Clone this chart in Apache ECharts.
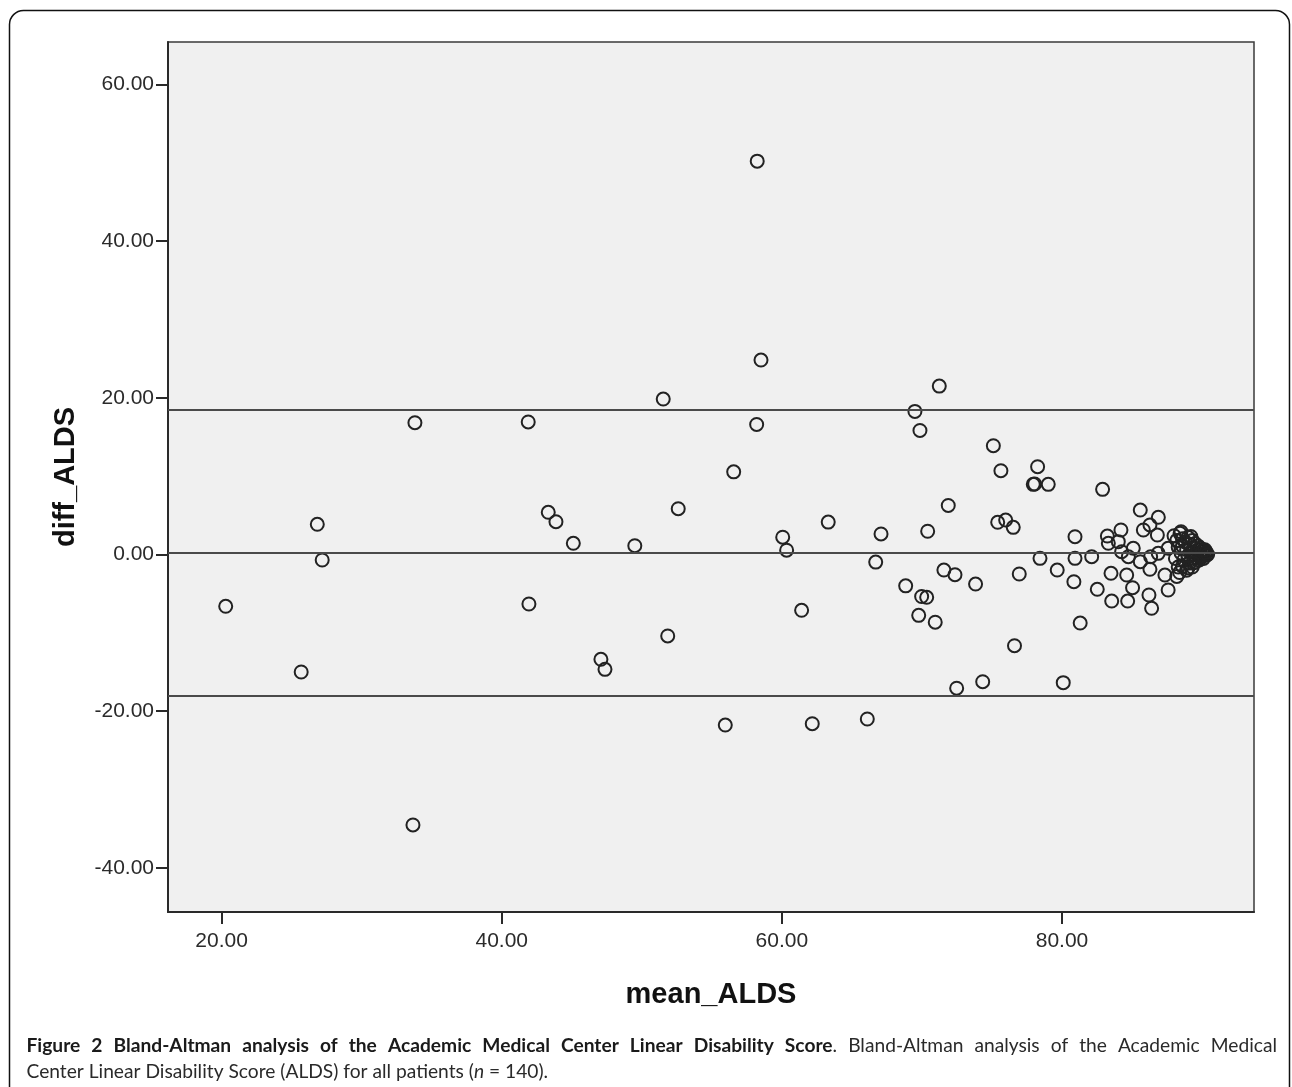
<!DOCTYPE html>
<html>
<head>
<meta charset="utf-8">
<script src="https://cdn.jsdelivr.net/npm/echarts@6/dist/echarts.min.js"></script>
<style>
html,body{margin:0;padding:0;background:#fff;}
#chart{width:1292px;height:1087px;}
</style>
</head>
<body>
<div id="chart"></div>
<script>
// ---- data ----
const meanALDS = [
  20.29, 25.68, 26.83, 27.18, 33.66, 33.80, 41.89, 41.94, 43.32, 43.87,
  45.11, 47.08, 47.37, 49.50, 51.53, 51.85, 52.60,
  55.96, 56.56, 58.24, 58.51, 58.20, 60.06, 60.34, 61.41, 62.17, 63.31,
  66.10, 66.70, 67.08, 68.84, 69.50, 69.77, 69.86, 69.98, 70.34, 70.41,
  70.95, 71.24, 71.57, 71.88, 72.36, 72.48,
  73.83, 74.34, 75.10, 75.41, 75.64, 75.98, 76.52, 76.61, 76.95, 77.95,
  78.05, 78.26, 78.43, 79.02, 79.66, 80.09, 80.85, 80.93, 80.93, 81.30,
  82.90, 85.59, 86.88, 83.24, 84.21, 85.81, 86.28, 86.81, 88.43, 83.31,
  84.02, 85.09, 84.26, 84.74, 82.12, 85.59, 86.33, 86.87, 87.58, 86.28,
  87.35, 83.50, 84.62, 85.04, 82.52, 87.58, 83.55, 84.69, 86.21, 86.40,
  88.00, 88.20, 88.30, 88.10, 88.30, 88.20, 88.50, 88.60, 88.60, 88.50,
  88.70, 88.60, 88.90, 88.80, 88.90, 89.00, 89.00, 89.10, 89.10, 89.20,
  89.30, 89.30, 89.40, 89.40, 89.50, 89.50, 89.60, 89.60, 89.70, 89.70,
  89.80, 89.80, 89.90, 89.90, 90.00, 90.00, 90.10, 90.10, 90.20, 90.20,
  90.30, 90.30, 90.40, 89.35, 89.00, 88.40, 89.20
];
const diffALDS = [
  -6.61, -15.00, 3.86, -0.70, -34.53, 16.83, 16.92, -6.32, 5.39, 4.19,
  1.43, -13.38, -14.66, 1.12, 19.85, -10.40, 5.85,
  -21.77, 10.55, 50.22, 24.83, 16.60, 2.21, 0.55, -7.12, -21.60, 4.14,
  -21.00, -0.97, 2.62, -4.00, 18.27, -7.77, 15.84, -5.36, -5.46, 2.97,
  -8.64, 21.50, -1.98, 6.26, -2.58, -17.07,
  -3.77, -16.24, 13.89, 4.11, 10.70, 4.40, 3.47, -11.64, -2.49, 8.96,
  9.00, 11.21, -0.49, 8.96, -1.98, -16.36, -3.47, 2.27, -0.49, -8.75,
  8.32, 5.68, 4.75, 2.36, 3.13, 3.13, 3.77, 2.49, 2.70, 1.43,
  1.64, 0.79, 0.36, -0.28, -0.28, -0.92, -0.28, 0.15, 0.79, -1.89,
  -2.62, -2.40, -2.62, -4.24, -4.44, -4.53, -5.94, -5.94, -5.17, -6.87,
  2.40, 1.80, 0.90, -0.50, -1.60, -2.80, 2.90, 2.00, 1.10, 0.20,
  -0.70, -1.50, -2.00, 1.60, 0.60, -0.20, 2.20, 1.30, -1.10, 0.30,
  -1.60, 1.80, 0.90, -0.50, 1.40, -1.00, 0.20, -0.40, 1.10, 0.60,
  -0.70, 0.00, 0.80, -0.30, 0.40, -0.20, 0.50, -0.50, 0.10, 0.60,
  -0.10, 0.30, 0.00, -1.09, -1.70, -2.30, 2.30
];
const upperLimit = 18.51;
const meanDiff = 0.24;
const lowerLimit = -18.03;
const xTicks = [20, 40, 60, 80];
const yTicks = [-40, -20, 0, 20, 40, 60];
const xTitle = 'mean_ALDS';
const yTitle = 'diff_ALDS';
const captionLine1 = [
  ['b', 'Figure'], ['b', '2'], ['b', 'Bland-Altman'], ['b', 'analysis'], ['b', 'of'], ['b', 'the'],
  ['b', 'Academic'], ['b', 'Medical'], ['b', 'Center'], ['b', 'Linear'], ['b', 'Disability'],
  ['b', 'Score', 'r', '.'], ['r', 'Bland-Altman'], ['r', 'analysis'], ['r', 'of'], ['r', 'the'],
  ['r', 'Academic'], ['r', 'Medical']
];
const captionLine2 = ['Center Linear Disability Score (ALDS) for all patients (', 'n', ' = 140).'];

// ---- chart ----
const points = meanALDS.map((m, i) => [m, diffALDS[i]]);
const chart = echarts.init(document.getElementById('chart'));

const capFont = 'Lato, "Open Sans", sans-serif';
const capSize = 19.2;
const capColor = '#2a2a2a';
const ctx = document.createElement('canvas').getContext('2d');
function segWidth(style, text) {
  ctx.font = (style === 'b' ? 'bold ' : '') + capSize + 'px ' + capFont;
  return ctx.measureText(text).width;
}
const capLeft = 26.5, capRight = 1277, capY1 = 1045.5, capY2 = 1071.5;
const wordWidths = captionLine1.map(w => {
  let s = 0;
  for (let k = 0; k < w.length; k += 2) s += segWidth(w[k], w[k + 1]);
  return s;
});
const totalW = wordWidths.reduce((a, b) => a + b, 0);
const gap = (capRight - capLeft - totalW) / (captionLine1.length - 1);
const capGraphics = [];
let cx = capLeft;
const richStyles = {
  b: { fontWeight: 'bold', fontSize: capSize, fontFamily: capFont, fill: '#1a1a1a' },
  r: { fontWeight: 'normal', fontSize: capSize, fontFamily: capFont, fill: capColor },
  i: { fontWeight: 'normal', fontStyle: 'italic', fontSize: capSize, fontFamily: capFont, fill: capColor }
};
captionLine1.forEach((w, i) => {
  let str = '';
  for (let k = 0; k < w.length; k += 2) str += '{' + w[k] + '|' + w[k + 1] + '}';
  capGraphics.push({
    type: 'text', x: cx, y: capY1, silent: true,
    style: { text: str, verticalAlign: 'middle', align: 'left', rich: richStyles }
  });
  cx += wordWidths[i] + gap;
});
capGraphics.push({
  type: 'text', x: capLeft, y: capY2, silent: true,
  style: {
    text: '{r|' + captionLine2[0] + '}{i|' + captionLine2[1] + '}{r|' + captionLine2[2] + '}',
    verticalAlign: 'middle', align: 'left', rich: richStyles
  }
});

const axisFont = 'Arial, "Liberation Sans", sans-serif';
const option = {
  animation: false,
  backgroundColor: '#ffffff',
  graphic: [
    {
      type: 'rect', silent: true, z: -10,
      shape: { x: 9.5, y: 10.5, width: 1280, height: 1120, r: 14 },
      style: { fill: 'none', stroke: '#111', lineWidth: 1.5 }
    }
  ].concat(capGraphics),
  grid: {
    left: 168, top: 42, width: 1086, height: 870,
    show: true, backgroundColor: '#f0f0f0', borderColor: '#3a3a3a', borderWidth: 1.5,
    containLabel: false
  },
  xAxis: {
    type: 'value', min: 16.17, max: 93.71,
    name: xTitle, nameLocation: 'middle', nameGap: 68,
    nameTextStyle: { fontFamily: axisFont, fontWeight: 'bold', fontSize: 29, color: '#111' },
    axisLine: { show: true, onZero: false, lineStyle: { color: '#2a2a2a', width: 2 } },
    axisTick: { show: true, customValues: xTicks, length: 12, lineStyle: { color: '#2a2a2a', width: 2 } },
    axisLabel: {
      customValues: xTicks, margin: 19,
      formatter: v => v.toFixed(2),
      fontFamily: axisFont, fontSize: 21, color: '#2b2b2b'
    },
    splitLine: { show: false }
  },
  yAxis: {
    type: 'value', min: -45.64, max: 65.43,
    name: yTitle, nameLocation: 'middle', nameGap: 88, nameRotate: 90,
    nameTextStyle: { fontFamily: axisFont, fontWeight: 'bold', fontSize: 29, color: '#111' },
    axisLine: { show: true, onZero: false, lineStyle: { color: '#2a2a2a', width: 2 } },
    axisTick: { show: true, customValues: yTicks, length: 12, lineStyle: { color: '#2a2a2a', width: 2 } },
    axisLabel: {
      customValues: yTicks, margin: 14,
      formatter: v => v.toFixed(2),
      fontFamily: axisFont, fontSize: 21, color: '#2b2b2b'
    },
    splitLine: { show: false }
  },
  series: [
    {
      type: 'scatter',
      data: points,
      symbol: 'circle',
      symbolSize: 13,
      itemStyle: { color: 'rgba(0,0,0,0)', borderColor: '#222', borderWidth: 2, opacity: 1 },
      markLine: {
        silent: true, symbol: ['none', 'none'], animation: false,
        label: { show: false },
        lineStyle: { type: 'solid', color: '#4a4a4a', width: 2 },
        emphasis: { disabled: true },
        data: [{ yAxis: upperLimit }, { yAxis: meanDiff }, { yAxis: lowerLimit }]
      }
    }
  ]
};
chart.setOption(option);
</script>
</body>
</html>
